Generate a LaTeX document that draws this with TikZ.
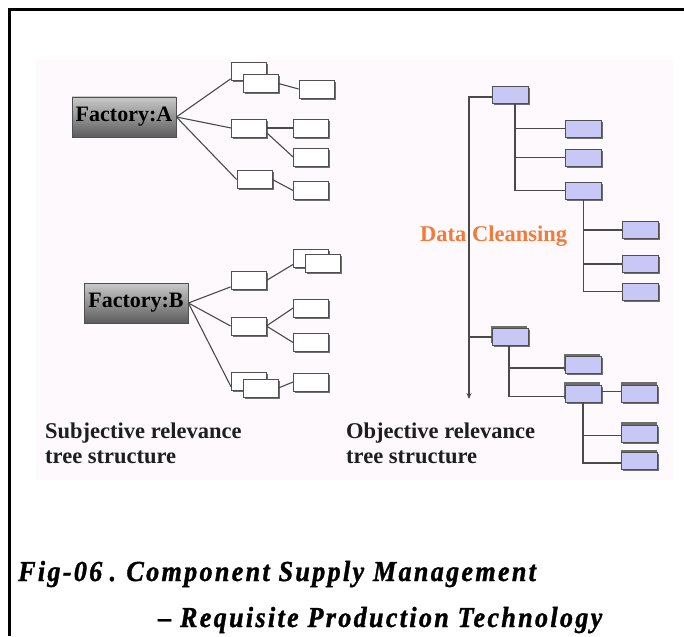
\documentclass[tikz,border=0pt]{standalone}
\usepackage{fontspec}
\setmainfont{Liberation Serif}
\newfontfamily\capfont[LetterSpace=8,FakeStretch=0.9,FakeBold=1.2]{Liberation Serif}
\usetikzlibrary{shadows,calc,arrows.meta}

\definecolor{panel}{HTML}{FDF9FD}
\definecolor{boxline}{HTML}{505050}
\definecolor{shadowgray}{HTML}{6E6E6E}
\definecolor{lav}{HTML}{C8C8F6}
\definecolor{linegray}{HTML}{4A4A4A}
\definecolor{factop}{HTML}{CACACA}
\definecolor{facbot}{HTML}{5C5C5C}
\definecolor{cleanse}{HTML}{F47A3A}
\definecolor{bodytext}{HTML}{1E1E1E}

\tikzset{
  wbox/.style={draw=boxline, fill=white, line width=0.8pt, inner sep=0pt,
    minimum width=35pt, minimum height=18pt,
    drop shadow={shadow xshift=1.6pt, shadow yshift=-1.6pt, fill=shadowgray, opacity=1}},
  pbox/.style={wbox, fill=lav, minimum width=36pt, minimum height=17pt},
  qbox/.style={pbox,
    drop shadow={shadow xshift=-0.8pt, shadow yshift=2.6pt, fill=shadowgray, opacity=1}},
  factory/.style={draw=boxline, line width=0.8pt, top color=factop, bottom color=facbot,
    minimum width=104pt, minimum height=40pt, inner sep=0pt,
    font=\fontsize{22}{24}\selectfont\bfseries, text=black},
  link/.style={draw=linegray, line width=1.1pt},
  label/.style={anchor=base west, inner sep=0pt, text=bodytext,
    font=\fontsize{22.5}{25}\selectfont\bfseries},
  caption/.style={anchor=base west, inner sep=0pt, text=black,
    font=\capfont\fontsize{29}{31}\selectfont\bfseries\itshape},
}

\begin{document}
\begin{tikzpicture}[x=1pt, y=-1pt]
  \useasboundingbox (0,0) rectangle (684,636);
  \fill[white] (0,0) rectangle (684,636);
  % panel behind both trees
  \fill[panel] (36,60) rectangle (673,480);
  % frame rules
  \draw[line width=3.5pt] (8,9.5) -- (684,9.5);
  \draw[line width=3.5pt] (9.5,8) -- (9.5,636);

  % ---------- subjective tree, factory A ----------
  \node[factory] (FA) at (124,117) {Factory:A};
  \node[wbox] (a1back) at (248.5,71.5) {};
  \node[wbox] (a1) at (260.5,83.5) {};
  \node[wbox] (a1r) at (316.5,89) {};
  \node[wbox] (a2) at (249,128) {};
  \node[wbox] (a2a) at (311,128) {};
  \node[wbox] (a2b) at (311,157) {};
  \node[wbox] (a3) at (254.5,179.5) {};
  \node[wbox] (a3a) at (311,190.5) {};
  \draw[link] (FA.east) -- ($(a1back.south west)+(0,-2)$);
  \draw[link] (FA.east) -- (a2.west);
  \draw[link] (FA.east) -- (a3.west);
  \draw[link] (a1.east) -- (a1r.west);
  \draw[link] (a2.east) -- (a2a.west);
  \draw[link] ($(a2.east)+(0,5)$) -- (a2b.west);
  \draw[link] (a3.east) -- (a3a.west);

  % ---------- subjective tree, factory B ----------
  \node[factory] (FB) at (136,303) {Factory:B};
  \node[wbox] (b1) at (248.5,280.5) {};
  \node[wbox] (b1aback) at (311,258) {};
  \node[wbox] (b1a) at (323,263.5) {};
  \node[wbox] (b2) at (248.5,326) {};
  \node[wbox] (b2a) at (311,308) {};
  \node[wbox] (b2b) at (311,342.5) {};
  \node[wbox] (b3back) at (249,381.5) {};
  \node[wbox] (b3) at (260.5,388) {};
  \node[wbox] (b3a) at (311,382) {};
  \draw[link] (FB.east) -- ($(b1.south west)+(0,-3)$);
  \draw[link] (FB.east) -- (b2.west);
  \draw[link] (FB.east) -- ($(b3back.south west)+(0,-4)$);
  \draw[link] (b1.east) -- ($(b1aback.south west)+(0,-3)$);
  \draw[link] (b2.east) -- (b2a.west);
  \draw[link] (b2.east) -- (b2b.west);
  \draw[link] (b3.east) -- (b3a.west);

  % ---------- objective tree ----------
  \coordinate (top) at (469,97);
  \coordinate (bottom) at (469,399);
  \node[pbox] (R0) at (510,95) {};
  \node[pbox] (R1) at (583.5,128.5) {};
  \node[pbox] (R2) at (583.5,157.5) {};
  \node[pbox] (R3) at (583.5,190.5) {};
  \node[pbox] (R31) at (640,230) {};
  \node[pbox] (R32) at (640,264) {};
  \node[pbox] (R33) at (640,291.5) {};
  \node[qbox] (R4) at (510,337) {};
  \node[qbox] (R41) at (583,365) {};
  \node[qbox] (R42) at (583,393.5) {};
  \node[qbox] (R43) at (639.5,393.5) {};
  \node[qbox] (R44) at (639.5,433.5) {};
  \node[qbox] (R45) at (639.5,461) {};

  \draw[link, -{Stealth[length=6pt,width=5pt]}] (R0.west |- top) -- (top) -- (bottom);
  \draw[link] (top |- R4.west) -- (R4.west);

  \draw[link] ([xshift=5pt]R0.south) |- (R1.west);
  \draw[link] ([xshift=5pt]R0.south) |- (R2.west);
  \draw[link] ([xshift=5pt]R0.south) |- (R3.west);
  \draw[link] (R3.south) |- (R31.west);
  \draw[link] (R3.south) |- (R32.west);
  \draw[link] (R3.south) |- (R33.west);

  \draw[link] ([xshift=-1pt]R4.south) |- ([yshift=-3pt]R41.west);
  \draw[link] ([xshift=-1pt]R4.south) |- ([yshift=-3pt]R42.west);
  \draw[link] ([yshift=2pt]R42.east) -- ([yshift=2pt]R43.west);
  \draw[link] (R42.south) |- ([yshift=-2pt]R44.west);
  \draw[link] (R42.south) |- ([yshift=-2pt]R45.west);

  \node[label, text=cleanse] (dc) at (420,241) {Data Cleansing};

  % ---------- captions under the trees ----------
  \node[label] (subj1) at (45,438) {Subjective relevance};
  \node[label] (subj2) at (45,463) {tree structure};
  \node[label] (obj1) at (346,438) {Objective relevance};
  \node[label] (obj2) at (346,463) {tree structure};

  % ---------- figure title ----------
  \node[caption] (cap1) at (18,581) {Fig-06\hspace{-1.5pt} .\hspace{-1.5pt} Component Supply Management};
  \node[caption] (cap2) at (158,627) {– Requisite Production Technology};
\end{tikzpicture}
\end{document}
